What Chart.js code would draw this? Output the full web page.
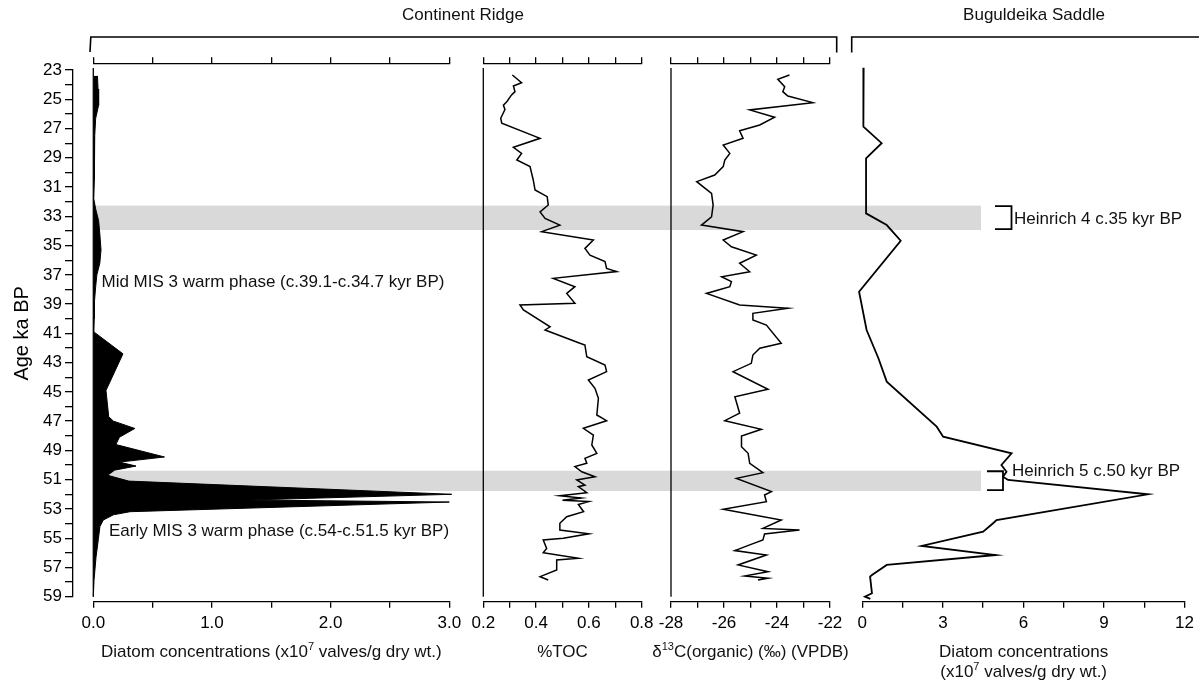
<!DOCTYPE html>
<html><head><meta charset="utf-8">
<script src="https://cdn.jsdelivr.net/npm/chart.js@4.4.1/dist/chart.umd.min.js"></script>
<style>
html,body{margin:0;padding:0;background:#fff;}
#wrap{position:relative;width:1199px;height:680px;overflow:hidden;background:#fff;}
#wrap canvas{position:absolute;left:0;top:0;}
</style></head><body>
<div id="wrap">
<canvas id="frame" width="1199" height="680"></canvas>
<canvas id="p1" width="1199" height="680"></canvas>
<canvas id="p2" width="1199" height="680"></canvas>
<canvas id="p3" width="1199" height="680"></canvas>
<canvas id="p4" width="1199" height="680"></canvas>
</div>
<script>
// ---------------- DATA ----------------
const AGE_MIN = 23, AGE_MAX = 59;
const ageTickLabels = [23,25,27,29,31,33,35,37,39,41,43,45,47,49,51,53,55,57,59];

// Continent Ridge diatom concentrations (x10^7 valves/g dry wt.)
const crDiatomAge = [23.4,24.3,25.4,26.3,27.5,29,30.5,31.8,32.5,33.3,34.2,35.3,36.2,37.0,37.8,38.8,40.0,40.9,42.4,44.9,46.7,47.0,47.5,48.1,48.6,49.45,49.8,50.07,50.35,50.7,51.1,52.0,52.39,52.53,53.19,53.4,53.76,54.2,55.1,56.3,57.9,59.0];
const crDiatomVal = [0.035,0.04,0.045,0.02,0.012,0.01,0.008,0.004,0.02,0.045,0.055,0.065,0.055,0.03,0.02,0.01,0.008,0.005,0.25,0.107,0.13,0.17,0.35,0.22,0.19,0.6,0.22,0.36,0.18,0.12,0.3,3.02,1.32,3.0,0.31,0.17,0.084,0.056,0.042,0.023,0.006,0];
const crDiatomTickLabels = [0,1,2,3];

// %TOC
const tocAge = [23.34,23.87,24.09,24.48,24.7,25.17,25.4,25.7,26.3,26.64,27.67,28.28,28.7,29.15,29.6,30.5,31.2,31.66,32.23,32.7,33.14,33.6,34.05,34.62,35.19,35.65,36.1,36.56,36.78,37.24,37.81,38.27,38.95,39.06,39.4,40.55,40.77,41.68,41.8,42.6,43.16,43.62,44.19,44.76,45.44,46.58,46.97,47.49,47.95,48.63,49.2,49.54,49.88,50.11,50.46,50.8,51.02,51.37,51.48,51.89,52.1,52.25,52.4,52.5,52.7,53.19,53.53,53.98,54.44,54.7,55.0,55.12,55.7,55.99,56.37,56.49,57.17,57.63,57.86];
const tocVal = [0.31,0.345,0.314,0.32,0.307,0.289,0.276,0.282,0.266,0.27,0.415,0.314,0.345,0.327,0.377,0.389,0.396,0.442,0.446,0.415,0.434,0.49,0.421,0.617,0.585,0.604,0.661,0.667,0.705,0.465,0.547,0.516,0.547,0.339,0.352,0.453,0.434,0.566,0.585,0.592,0.661,0.667,0.598,0.623,0.636,0.63,0.667,0.579,0.617,0.611,0.63,0.585,0.592,0.547,0.573,0.623,0.554,0.585,0.56,0.592,0.49,0.57,0.5,0.6,0.56,0.58,0.516,0.49,0.49,0.6,0.503,0.427,0.44,0.427,0.56,0.478,0.478,0.415,0.446];
const tocTickLabels = [0.2,0.4,0.6,0.8];

// d13C organic (per mil VPDB)
const d13cAge = [23.34,23.64,24.14,24.48,24.78,25.23,25.73,26.23,26.76,27.15,27.67,28.13,28.7,29.15,29.6,30.18,30.63,31.43,32.23,33.03,33.6,34.05,34.62,35.08,35.65,36.21,36.79,37.13,37.47,37.81,38.27,39.06,39.29,39.63,40.09,40.43,41.68,42.02,42.48,43.05,43.62,44.82,45.33,46.46,46.97,47.56,48.02,48.75,49.2,49.88,50.52,50.91,51.82,52.05,52.51,53.03,53.76,54.33,54.44,54.71,55.12,55.46,55.85,56.15,56.83,57.29,57.59,57.74,57.86];
const d13cVal = [-23.53,-23.97,-23.71,-23.78,-23.59,-22.65,-25.03,-24.09,-24.65,-25.41,-25.28,-26.03,-25.78,-25.97,-26.03,-26.35,-27.03,-26.47,-26.41,-26.47,-26.85,-25.28,-26.03,-25.72,-24.78,-25.41,-25.03,-26.09,-25.72,-25.78,-26.66,-25.41,-23.59,-24.91,-24.91,-24.4,-23.84,-24.65,-24.91,-24.97,-25.66,-24.34,-25.59,-25.41,-25.97,-24.59,-25.34,-25.34,-25.09,-25.03,-24.53,-25.53,-24.21,-24.47,-24.4,-26.03,-23.84,-24.53,-23.15,-24.47,-24.53,-25.03,-25.59,-24.4,-25.47,-24.34,-25.22,-24.34,-24.72];
const d13cTickLabels = [-28,-26,-24,-22];

// Buguldeika Saddle diatom concentrations
const bsDiatomAge = [22.85,26.87,28.0,29.04,32.8,33.6,34.67,38.15,40.77,42.7,44.3,47.38,48.06,49.2,50.0,50.46,50.8,51.02,52.0,53.76,53.98,54.55,55.53,56.15,56.83,57.52,57.63,58.77,59.0,59.15];
const bsDiatomVal = [0.05,0.04,0.72,0.14,0.14,0.91,1.43,-0.12,0.16,0.6,0.91,2.77,3.01,5.56,5.18,5.37,5.24,5.43,10.64,5.0,4.87,4.5,2.21,4.97,0.91,0.36,0.29,0.36,0.1,0.3];
const bsDiatomTickLabels = [0,3,6,9,12];

// Heinrich events (grey bands)
const bandStart = [32.27, 50.39];
const bandEnd = [33.94, 51.78];
const heinrichLabels = ['Heinrich 4 c.35 kyr BP', 'Heinrich 5 c.50 kyr BP'];
const heinrichLabelAge = [33.1, 50.35];

// warm phase annotations
const warmPhaseText = ['Mid MIS 3 warm phase (c.39.1-c.34.7 kyr BP)', 'Early MIS 3 warm phase (c.54-c.51.5 kyr BP)'];
const warmPhaseAge = [37.45, 54.45];

// ---------------- LAYOUT ----------------
const FONT = "'Liberation Sans', Arial, Helvetica, sans-serif";
const W = 1199, H = 680;
const L = { axisTop: 63.3, axisBottom: 601.7, ageTop: 70, ageBottom: 596.7, yAxisX: 73,
  bottomBox: 45,
  bandLeft: 93.3, bandRight: 981,
  hBracket: [[995, 1011.5, 1014], [987, 1003, 1012]],
  warmX: [101.5, 109], fs: 17 };
const pxPerKa = (L.ageBottom - L.ageTop) / (AGE_MAX - AGE_MIN);
const panelAgeMin = AGE_MIN - (L.ageTop - L.axisTop) / pxPerKa;
const panelAgeMax = AGE_MAX + (L.axisBottom - L.ageBottom) / pxPerKa;

Chart.defaults.font.family = FONT;
Chart.defaults.color = '#000';

function pts(ages, vals) { return ages.map((a, i) => ({ x: vals[i], y: a })); }

function richText(ctx, parts, cx, cy, size) {
  const sup = Math.round(size * 0.62);
  let w = 0;
  parts.forEach(p => { ctx.font = (p.sup ? sup : size) + 'px ' + FONT; p.w = ctx.measureText(p.t).width; w += p.w; });
  let x = cx - w / 2;
  const base = cy + size * 0.35;
  ctx.textAlign = 'left'; ctx.textBaseline = 'alphabetic';
  parts.forEach(p => { ctx.font = (p.sup ? sup : size) + 'px ' + FONT; ctx.fillText(p.t, x, p.sup ? base - size * 0.42 : base); x += p.w; });
}
function textAt(ctx, t, x, cy, size, align) {
  ctx.font = size + 'px ' + FONT; ctx.textAlign = align || 'left'; ctx.textBaseline = 'alphabetic';
  ctx.fillText(t, x, cy + size * 0.35);
}

const panelDefs = [
  { id: 'p1', left: 93.3, right: 449.3, min: 0, max: 3, step: 0.5, labels: crDiatomTickLabels, fmt: v => v.toFixed(1), top: true, leftLine: true,
    ds: { data: pts(crDiatomAge, crDiatomVal), fill: 'origin', backgroundColor: '#000', borderColor: '#000', borderWidth: 1 },
    title: [[{ t: 'Diatom concentrations (x10' }, { t: '7', sup: true }, { t: ' valves/g dry wt.)' }]] },
  { id: 'p2', left: 483.3, right: 641.7, min: 0.2, max: 0.8, step: 0.1, labels: tocTickLabels, fmt: v => v.toFixed(1), top: true, leftLine: true,
    ds: { data: pts(tocAge, tocVal), fill: false, borderColor: '#000', borderWidth: 1.5 },
    title: [[{ t: '%TOC' }]] },
  { id: 'p3', left: 671, right: 830, min: -28, max: -22, step: 1, labels: d13cTickLabels, fmt: v => String(v), top: true, leftLine: true,
    ds: { data: pts(d13cAge, d13cVal), fill: false, borderColor: '#000', borderWidth: 1.5 },
    title: [[{ t: 'δ' }, { t: '13', sup: true }, { t: 'C(organic) (‰) (VPDB)' }]] },
  { id: 'p4', left: 862.3, right: 1185, min: 0, max: 12, step: 1.5, labels: bsDiatomTickLabels, fmt: v => String(v), top: false, leftLine: false,
    ds: { data: pts(bsDiatomAge, bsDiatomVal), fill: false, borderColor: '#000', borderWidth: 1.8 },
    title: [[{ t: 'Diatom concentrations' }], [{ t: '(x10' }, { t: '7', sup: true }, { t: ' valves/g dry wt.)' }]] }
];

// ---------------- FRAME (age axis, bands, labels) ----------------
const frameDecor = {
  id: 'frameDecor',
  beforeDraw(chart) {
    const ctx = chart.ctx, ys = chart.scales.y;
    ctx.save();
    ctx.fillStyle = '#d9d9d9';
    bandStart.forEach((s, i) => {
      const y1 = ys.getPixelForValue(s), y2 = ys.getPixelForValue(bandEnd[i]);
      ctx.fillRect(L.bandLeft, y1, L.bandRight - L.bandLeft, y2 - y1);
    });
    ctx.restore();
  },
  afterDraw(chart) {
    const ctx = chart.ctx, ys = chart.scales.y;
    ctx.save();
    ctx.strokeStyle = '#000'; ctx.fillStyle = '#111'; ctx.lineWidth = 1.6;
    // group brackets
    ctx.beginPath();
    ctx.moveTo(90, 52); ctx.lineTo(90.8, 37); ctx.lineTo(836.7, 37); ctx.lineTo(836.7, 52.5);
    ctx.moveTo(851.7, 52.5); ctx.lineTo(851.7, 37); ctx.lineTo(1210, 37);
    ctx.stroke();
    textAt(ctx, 'Continent Ridge', 463, 14, L.fs, 'center');
    textAt(ctx, 'Buguldeika Saddle', 1034, 14, L.fs, 'center');
    // axis titles
    panelDefs.forEach(p => {
      const cx = (p.left + p.right) / 2;
      p.title.forEach((line, k) => richText(ctx, line.map(o => Object.assign({}, o)), cx, 651 + k * 20, L.fs));
    });
    // warm phase annotations
    warmPhaseText.forEach((t, i) => textAt(ctx, t, L.warmX[i], ys.getPixelForValue(warmPhaseAge[i]), L.fs, 'left'));
    // Heinrich brackets + labels
    ctx.lineWidth = 1.8;
    bandStart.forEach((s, i) => {
      const y1 = ys.getPixelForValue(s) + 0.5, y2 = ys.getPixelForValue(bandEnd[i]) - 1;
      const [x0, x1, tx] = L.hBracket[i];
      ctx.beginPath(); ctx.moveTo(x0, y1); ctx.lineTo(x1, y1); ctx.lineTo(x1, y2); ctx.lineTo(x0, y2); ctx.stroke();
      textAt(ctx, heinrichLabels[i], tx, ys.getPixelForValue(heinrichLabelAge[i]), L.fs, 'left');
    });
    ctx.restore();
  }
};

new Chart(document.getElementById('frame'), {
  type: 'line',
  data: { datasets: [] },
  options: {
    responsive: false, animation: false, events: [],
    layout: { padding: { left: 0, right: W - 1185, top: L.ageTop, bottom: H - L.ageBottom } },
    plugins: { legend: { display: false }, tooltip: { enabled: false } },
    scales: {
      x: { type: 'linear', display: false, min: 0, max: 1 },
      y: { type: 'linear', position: 'left', reverse: true, min: AGE_MIN, max: AGE_MAX,
        ticks: { stepSize: 1, autoSkip: false, padding: 3, color: '#000', font: { family: FONT, size: L.fs },
          callback: v => ageTickLabels.includes(v) ? String(v) : '' },
        grid: { drawOnChartArea: false, tickLength: 8, color: '#000', lineWidth: 1.3 },
        border: { color: '#000', width: 1.3 },
        title: { display: true, text: 'Age ka BP', color: '#000', font: { family: FONT, size: 20 }, padding: { top: 10, bottom: 0 } },
        afterFit: s => { s.width = L.yAxisX; }
      }
    }
  },
  plugins: [frameDecor]
});

// ---------------- PANELS ----------------
const leftLine = {
  id: 'leftLine',
  beforeDatasetsDraw(chart) {
    if (!chart.$leftLine) return;
    const ys = chart.scales.y, x = chart.chartArea.left;
    const ctx = chart.ctx;
    ctx.save(); ctx.strokeStyle = '#000'; ctx.lineWidth = 1.3;
    ctx.beginPath(); ctx.moveTo(x, ys.getPixelForValue(AGE_MIN - 0.13)); ctx.lineTo(x, ys.getPixelForValue(AGE_MAX)); ctx.stroke();
    ctx.restore();
  }
};

panelDefs.forEach(p => {
  const isLabel = v => p.labels.some(l => Math.abs(l - v) < 1e-9);
  const scales = {
    y: { type: 'linear', display: false, min: panelAgeMin, max: panelAgeMax, reverse: true },
    x: { type: 'linear', position: 'bottom', min: p.min, max: p.max,
      ticks: { stepSize: p.step, autoSkip: false, maxRotation: 0, padding: 5, color: '#000', font: { family: FONT, size: L.fs },
        callback: v => isLabel(v) ? p.fmt(v) : '' },
      grid: { drawOnChartArea: false, tickLength: 6, color: '#000', lineWidth: 1.3 },
      border: { color: '#000', width: 1.3 },
      afterFit: s => { s.height = L.bottomBox; } }
  };
  if (p.top) {
    scales.x2 = { type: 'linear', position: 'top', min: p.min, max: p.max,
      ticks: { stepSize: p.step, autoSkip: false, display: false },
      grid: { drawOnChartArea: false, tickLength: 6, color: '#000', lineWidth: 1.3 },
      border: { color: '#000', width: 1.3 },
      afterFit: s => { s.height = 0; } };
  }
  const chart = new Chart(document.getElementById(p.id), {
    type: 'line',
    data: { datasets: [Object.assign({ pointRadius: 0, tension: 0, clip: false, xAxisID: 'x', yAxisID: 'y' }, p.ds)] },
    options: {
      responsive: false, animation: false, events: [], indexAxis: 'y',
      layout: { padding: { left: p.left, right: W - p.right, top: L.axisTop, bottom: H - L.axisBottom - L.bottomBox } },
      plugins: { legend: { display: false }, tooltip: { enabled: false } },
      scales
    },
    plugins: [leftLine]
  });
  chart.$leftLine = p.leftLine;
  chart.draw();
});
</script>
</body></html>
